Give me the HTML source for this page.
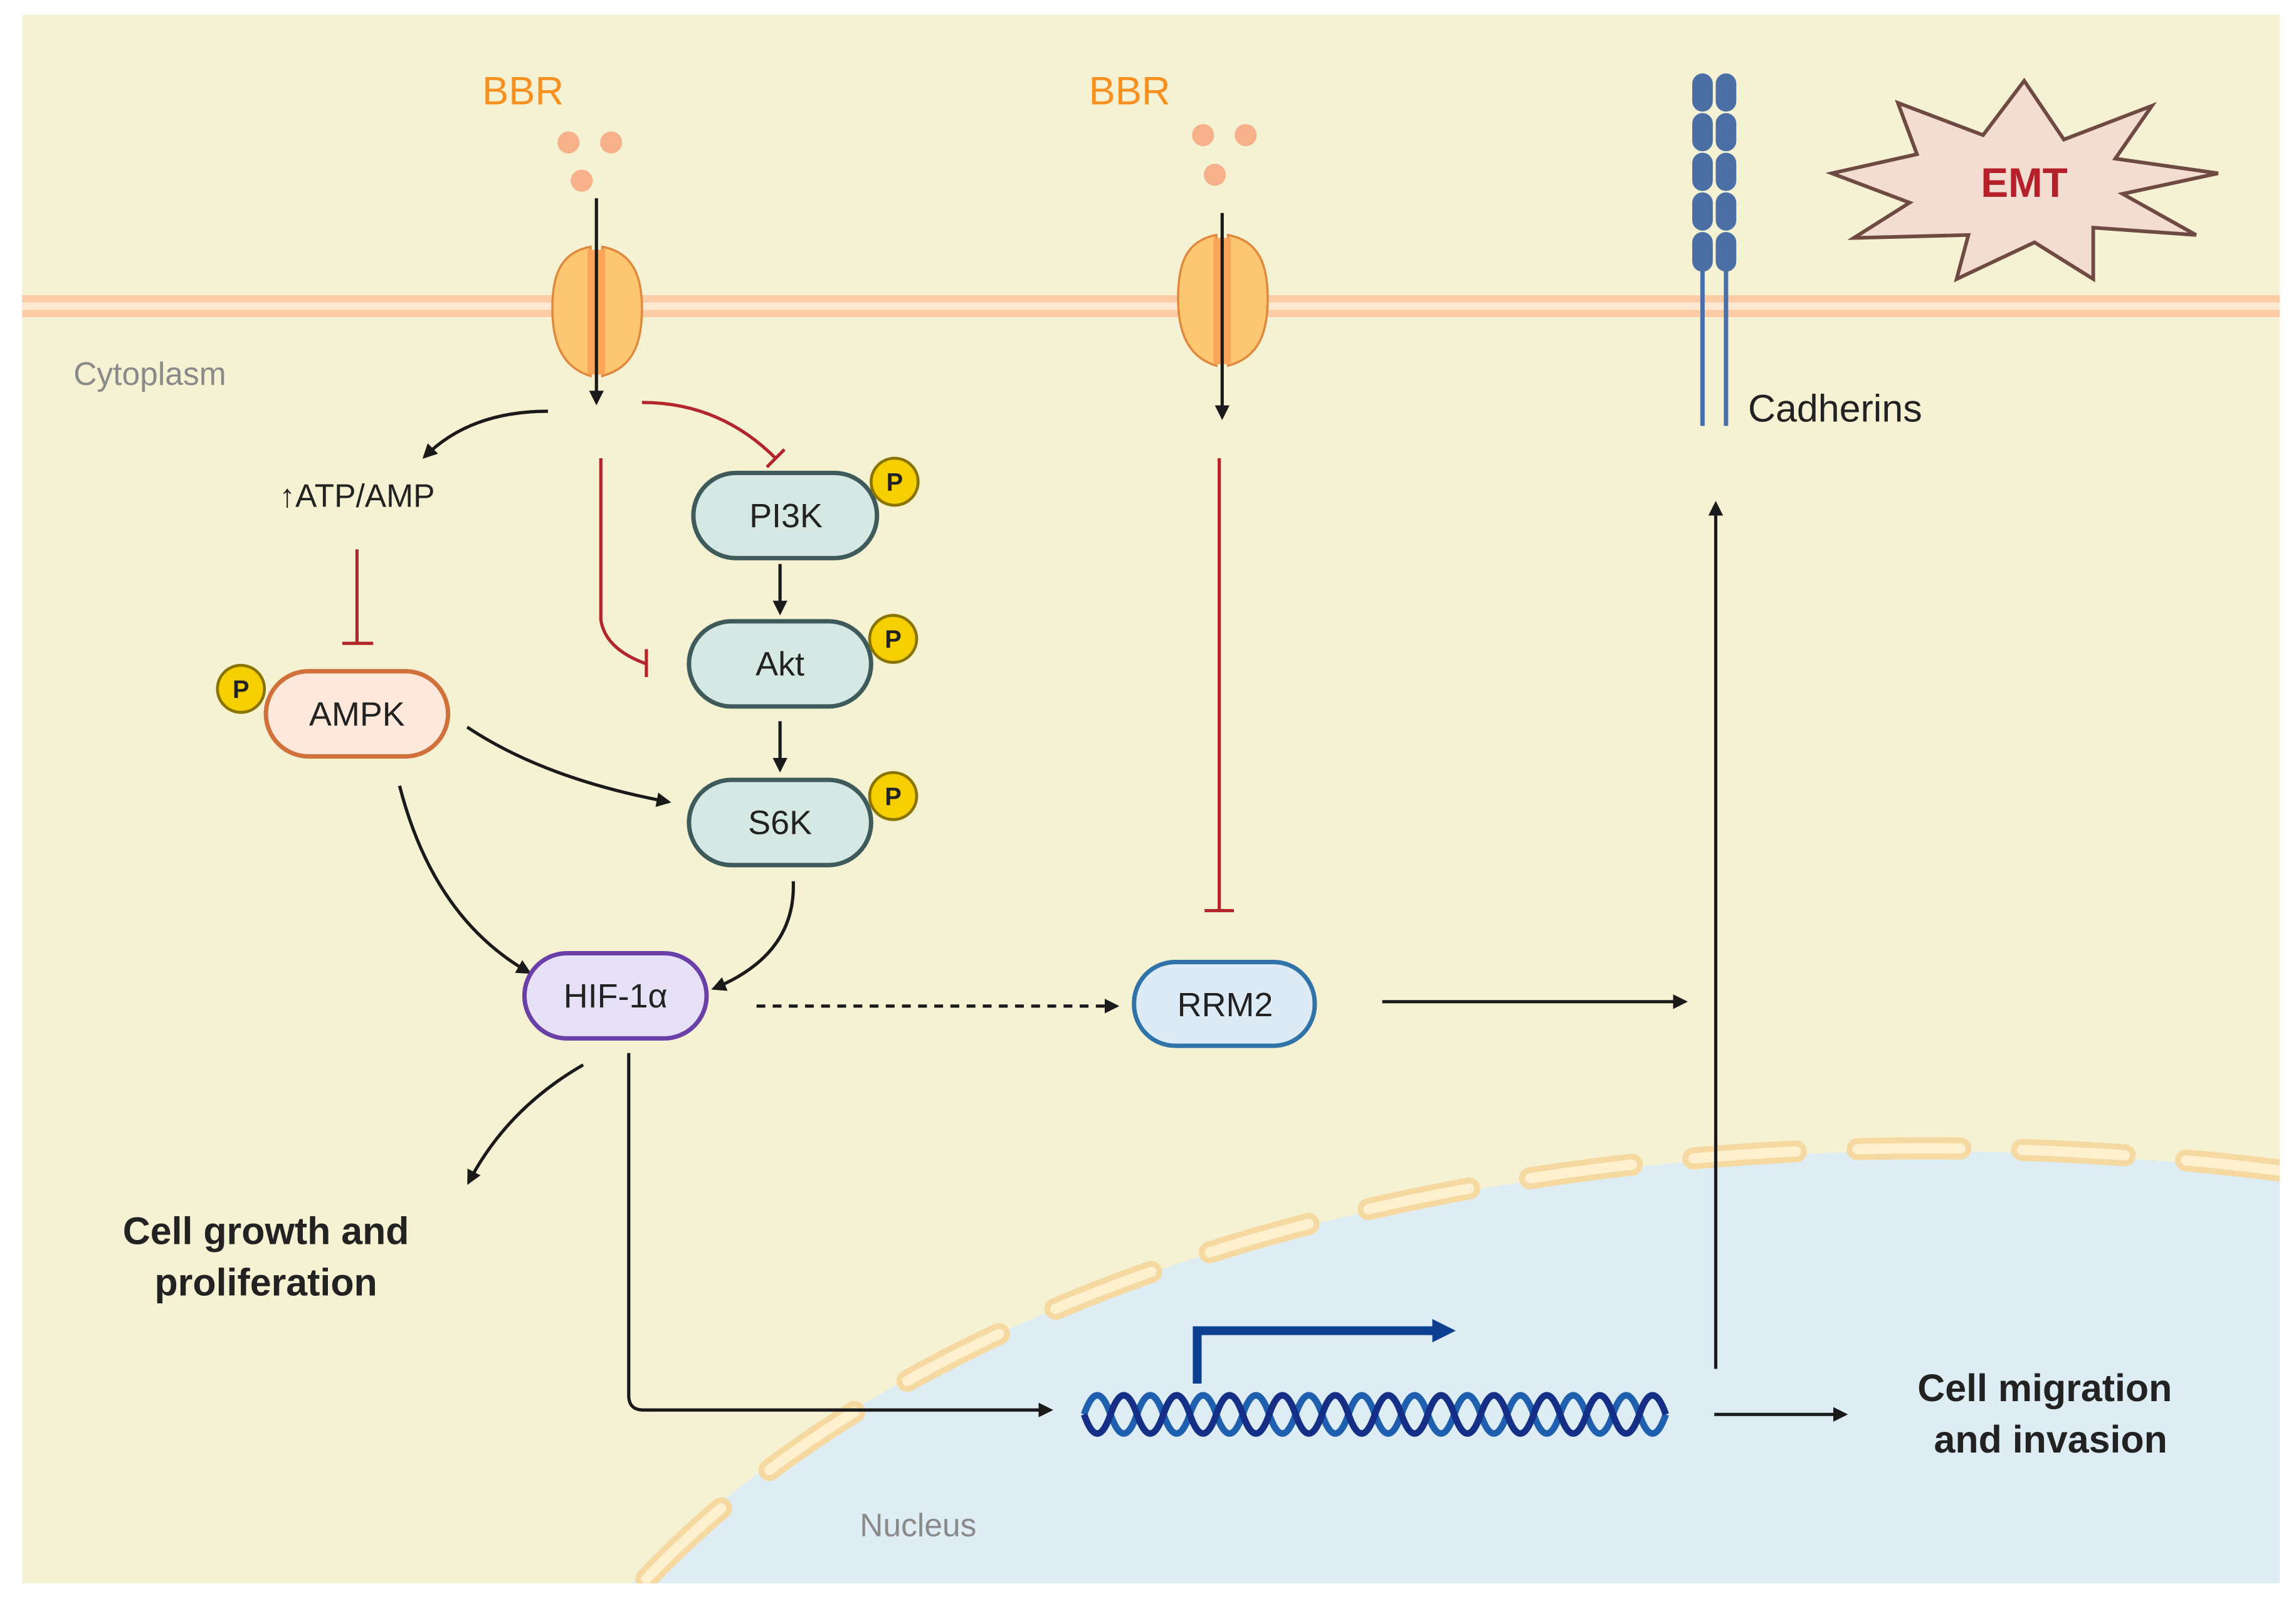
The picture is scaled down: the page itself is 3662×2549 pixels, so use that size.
<!DOCTYPE html>
<html><head><meta charset="utf-8"><style>
html,body{margin:0;padding:0;background:#fff;}
svg{display:block;}
text{font-family:"Liberation Sans",sans-serif;}
</style></head><body>
<svg width="3662" height="2549" viewBox="0 0 1563 1088" xmlns="http://www.w3.org/2000/svg">
<defs>
<marker id="ah" markerWidth="10" markerHeight="10" refX="8" refY="5" orient="auto" markerUnits="userSpaceOnUse"><path d="M0,0 L10,5 L0,10 z" fill="#1a1a1a"/></marker>
<marker id="ahb" markerWidth="16" markerHeight="16" refX="10" refY="8" orient="auto" markerUnits="userSpaceOnUse"><path d="M0,0 L16,8 L0,16 z" fill="#0d3f91"/></marker>
<clipPath id="pc"><rect x="15" y="10" width="1537" height="1068"/></clipPath>
</defs>
<rect x="0" y="0" width="1563" height="1088" fill="#fff"/>
<rect x="15" y="10" width="1537" height="1068" fill="#f5f2d4"/>
<g clip-path="url(#pc)">
<path d="M430,1078 C650,850 1100,740 1560,800 L1560,1078 Z" fill="#deedf3"/>
<path d="M440,1075 C655,848 1100,738 1560,798" fill="none" stroke="#f5d9a0" stroke-width="15" stroke-linecap="round" stroke-dasharray="70 42"/>
<path d="M440,1075 C655,848 1100,738 1560,798" fill="none" stroke="#fcf0cf" stroke-width="7" stroke-linecap="round" stroke-dasharray="70 42"/>
</g>
<rect x="15" y="201" width="1537" height="5" fill="#fbcca6"/>
<rect x="15" y="206" width="1537" height="5" fill="#fde9d2"/>
<rect x="15" y="211" width="1537" height="5" fill="#fbcca6"/>
<g stroke="#e0893c" stroke-width="1.5" fill="#fdc671">
<path d="M402,168 C380,172 376,190 376,210 C376,232 382,250 402,256 Z"/>
<path d="M410,168 C432,172 437,190 437,210 C437,232 432,250 410,256 Z"/>
<rect x="400" y="170" width="12" height="85" fill="#f9a65a" stroke="none"/>
<path d="M828,160 C806,164 802,182 802,203 C802,225 808,243 828,249 Z"/>
<path d="M836,160 C858,164 863,182 863,203 C863,225 858,243 836,249 Z"/>
<rect x="826" y="162" width="12" height="86" fill="#f9a65a" stroke="none"/>
</g>
<g fill="#f6b08a"><circle cx="387" cy="97" r="7.5"/><circle cx="416" cy="97" r="7.5"/><circle cx="396" cy="123" r="7.5"/>
<circle cx="819" cy="92" r="7.5"/><circle cx="848" cy="92" r="7.5"/><circle cx="827" cy="119" r="7.5"/></g>
<text x="356" y="71" font-size="27" fill="#f7901e" text-anchor="middle">BBR</text>
<text x="769" y="71" font-size="27" fill="#f7901e" text-anchor="middle">BBR</text>
<text x="50" y="262" font-size="22" fill="#8a8a8a">Cytoplasm</text>
<text x="625" y="1046" font-size="22" fill="#8a8a8a" text-anchor="middle">Nucleus</text>
<g stroke="#4a6fa8" stroke-width="3"><line x1="1159" y1="180" x2="1159" y2="290"/><line x1="1175" y1="180" x2="1175" y2="290"/></g>
<g fill="#4b6fa5">
<rect x="1152" y="50" width="14" height="26" rx="7"/><rect x="1152" y="77" width="14" height="26" rx="7"/><rect x="1152" y="104" width="14" height="26" rx="7"/><rect x="1152" y="131" width="14" height="26" rx="7"/><rect x="1152" y="158" width="14" height="27" rx="7"/>
<rect x="1168" y="50" width="14" height="26" rx="7"/><rect x="1168" y="77" width="14" height="26" rx="7"/><rect x="1168" y="104" width="14" height="26" rx="7"/><rect x="1168" y="131" width="14" height="26" rx="7"/><rect x="1168" y="158" width="14" height="27" rx="7"/>
</g>
<text x="1190" y="287" font-size="26" fill="#222">Cadherins</text>
<path d="M1378,55 L1405,95 L1465,72 L1440,108 L1510,118 L1445,132 L1495,160 L1425,155 L1425,190 L1385,165 L1332,190 L1340,160 L1262,162 L1300,138 L1247,118 L1305,105 L1292,70 L1350,92 Z" fill="#f3ddd0" stroke="#6e4a42" stroke-width="2.5" stroke-linejoin="miter"/>
<text x="1378" y="134" font-size="28" font-weight="bold" fill="#b5202a" text-anchor="middle">EMT</text>
<g fill="none" stroke="#1a1a1a" stroke-width="2.2">
<line x1="406" y1="135" x2="406" y2="274" marker-end="url(#ah)"/>
<line x1="832" y1="145" x2="832" y2="284" marker-end="url(#ah)"/>
<path d="M373,280 Q320,280 289,311" marker-end="url(#ah)"/>
<line x1="531" y1="384" x2="531" y2="417" marker-end="url(#ah)"/>
<line x1="531" y1="491" x2="531" y2="524" marker-end="url(#ah)"/>
<path d="M318,495 Q370,530 455,546" marker-end="url(#ah)"/>
<path d="M272,535 Q295,625 360,662" marker-end="url(#ah)"/>
<path d="M540,600 Q542,650 486,673" marker-end="url(#ah)"/>
<line x1="515" y1="685" x2="760" y2="685" stroke-dasharray="6 5" marker-end="url(#ah)"/>
<line x1="941" y1="682" x2="1147" y2="682" marker-end="url(#ah)"/>
<line x1="1168" y1="932" x2="1168" y2="343" marker-end="url(#ah)"/>
<path d="M397,725 Q345,755 319,805" marker-end="url(#ah)"/>
<path d="M428,717 L428,950 Q428,960 438,960 L715,960" marker-end="url(#ah)"/>
<line x1="1167" y1="963" x2="1256" y2="963" marker-end="url(#ah)"/>
</g>
<g fill="none" stroke="#b2262b" stroke-width="2.2">
<path d="M437,274 Q490,274 528,312"/><line x1="522" y1="318" x2="534" y2="306"/>
<path d="M409,312 L409,422 Q412,442 440,452"/><line x1="440" y1="442" x2="440" y2="461"/>
<line x1="243" y1="374" x2="243" y2="438"/><line x1="233" y1="438" x2="254" y2="438"/>
<line x1="830" y1="312" x2="830" y2="620"/><line x1="820" y1="620" x2="840" y2="620"/>
</g>
<text x="243" y="345" font-size="22" fill="#222" text-anchor="middle">↑ATP/AMP</text>
<g stroke-width="3">
<rect x="472" y="322" width="125" height="58" rx="29" fill="#d6e8e3" stroke="#3e5a5a"/>
<rect x="469" y="423" width="124" height="58" rx="29" fill="#d6e8e3" stroke="#3e5a5a"/>
<rect x="469" y="531" width="124" height="58" rx="29" fill="#d6e8e3" stroke="#3e5a5a"/>
<rect x="181" y="457" width="124" height="58" rx="29" fill="#fde9dc" stroke="#d0703a"/>
<rect x="357" y="649" width="124" height="58" rx="29" fill="#e7e1f8" stroke="#6a3fa8"/>
<rect x="772" y="655" width="123" height="57" rx="28" fill="#ddebf7" stroke="#2f73a8"/>
</g>
<g font-size="23" fill="#222" text-anchor="middle">
<text x="535" y="359">PI3K</text><text x="531" y="460">Akt</text><text x="531" y="568">S6K</text>
<text x="243" y="494">AMPK</text><text x="419" y="686">HIF-1α</text><text x="834" y="692">RRM2</text>
</g>
<g fill="#f6cf00" stroke="#8a7400" stroke-width="2">
<circle cx="609" cy="328" r="16"/><circle cx="608" cy="435" r="16"/><circle cx="608" cy="542" r="16"/><circle cx="164" cy="469" r="16"/>
</g>
<g font-size="17" font-weight="bold" fill="#222" text-anchor="middle">
<text x="609" y="334">P</text><text x="608" y="441">P</text><text x="608" y="548">P</text><text x="164" y="475">P</text>
</g>
<g fill="none" stroke-width="4.5">
<path d="M738,963 q9,-26 18,0 t18,0 t18,0 t18,0 t18,0 t18,0 t18,0 t18,0 t18,0 t18,0 t18,0 t18,0 t18,0 t18,0 t18,0 t18,0 t18,0 t18,0 t18,0 t18,0 t18,0 t18,0" stroke="#1f5fb0"/>
<path d="M738,963 q9,26 18,0 t18,0 t18,0 t18,0 t18,0 t18,0 t18,0 t18,0 t18,0 t18,0 t18,0 t18,0 t18,0 t18,0 t18,0 t18,0 t18,0 t18,0 t18,0 t18,0 t18,0 t18,0" stroke="#142f85"/>
<path d="M815,942 L815,906 L985,906" stroke="#0d3f91" stroke-width="6" marker-end="url(#ahb)"/>
</g>
<g font-size="26" font-weight="bold" fill="#222" text-anchor="middle">
<text x="181" y="847">Cell growth and</text><text x="181" y="882">proliferation</text>
<text x="1392" y="954">Cell migration</text><text x="1396" y="989">and invasion</text>
</g>
</svg>
</body></html>
